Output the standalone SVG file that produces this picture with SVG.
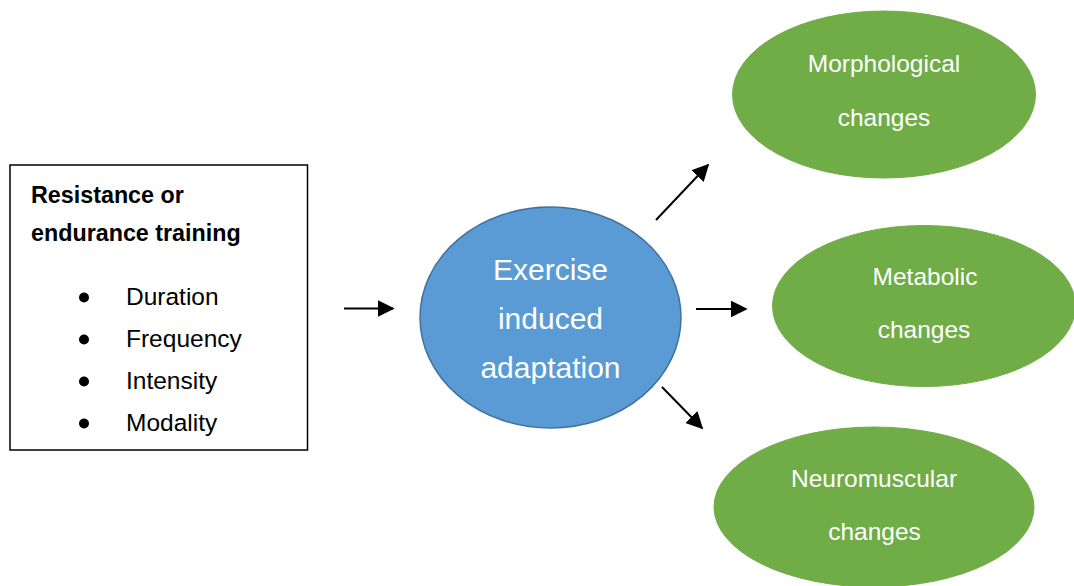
<svg xmlns="http://www.w3.org/2000/svg" width="1074" height="586" viewBox="0 0 1074 586">
  <defs>
    <style>
      .t { font-family: "Liberation Sans", Arial, sans-serif; }
      .w { fill: #ffffff; text-anchor: middle; }
      .blk { fill: #000000; }
      .green { fill: #70AD47; stroke: #70AD47; stroke-width: 1; }
      .conn { stroke: #000000; stroke-width: 2; fill: none; marker-end: url(#ah); }
    </style>
    <marker id="ah" viewBox="0 0 10 10" refX="9" refY="5" markerWidth="8.5" markerHeight="8.5" markerUnits="strokeWidth" orient="auto">
      <path d="M0,0 L10,5 L0,10 z" fill="#000000"/>
    </marker>
  </defs>
  <rect width="1074" height="586" fill="#ffffff"/>

  <g id="training">
    <rect x="10" y="165" width="297.5" height="285" fill="#ffffff" stroke="#000000" stroke-width="1.5"/>
    <text class="t blk" x="31" y="203" font-size="23.3" font-weight="bold">Resistance or</text>
    <text class="t blk" x="31" y="241" font-size="23.3" font-weight="bold">endurance training</text>
    <circle cx="84" cy="297.5" r="5" fill="#000000"/>
    <circle cx="84" cy="339.5" r="5" fill="#000000"/>
    <circle cx="84" cy="381.5" r="5" fill="#000000"/>
    <circle cx="84" cy="423.5" r="5" fill="#000000"/>
    <text class="t blk" x="126" y="305" font-size="24.5">Duration</text>
    <text class="t blk" x="126" y="347" font-size="24.5">Frequency</text>
    <text class="t blk" x="126" y="389" font-size="24.5">Intensity</text>
    <text class="t blk" x="126" y="431" font-size="24.5">Modality</text>
  </g>

  <g id="adaptation">
    <ellipse cx="550.5" cy="317.5" rx="130.5" ry="110.5" fill="#5B9BD5" stroke="#41719C" stroke-width="1.5"/>
    <text class="t w" x="550.5" y="280" font-size="30">Exercise</text>
    <text class="t w" x="550.5" y="329" font-size="30">induced</text>
    <text class="t w" x="550.5" y="378" font-size="30">adaptation</text>
  </g>

  <g id="morphological">
    <ellipse class="green" cx="884" cy="94.5" rx="151.5" ry="83.5"/>
    <text class="t w" x="884" y="72" font-size="24.5">Morphological</text>
    <text class="t w" x="884" y="126" font-size="24.5">changes</text>
  </g>

  <g id="metabolic">
    <ellipse class="green" cx="924" cy="306" rx="151.5" ry="80.5"/>
    <text class="t w" x="925" y="285" font-size="24.5">Metabolic</text>
    <text class="t w" x="924" y="338" font-size="24.5">changes</text>
  </g>

  <g id="neuromuscular">
    <ellipse class="green" cx="874" cy="507" rx="160" ry="80"/>
    <text class="t w" x="874" y="487" font-size="24.5">Neuromuscular</text>
    <text class="t w" x="874.5" y="540" font-size="24.5">changes</text>
  </g>

  <g id="connectors">
    <line class="conn" x1="344" y1="308.5" x2="393" y2="308.5"/>
    <line class="conn" x1="696" y1="309" x2="746" y2="309"/>
    <line class="conn" x1="656" y1="220" x2="708" y2="165"/>
    <line class="conn" x1="662" y1="387" x2="702" y2="428"/>
  </g>
</svg>
